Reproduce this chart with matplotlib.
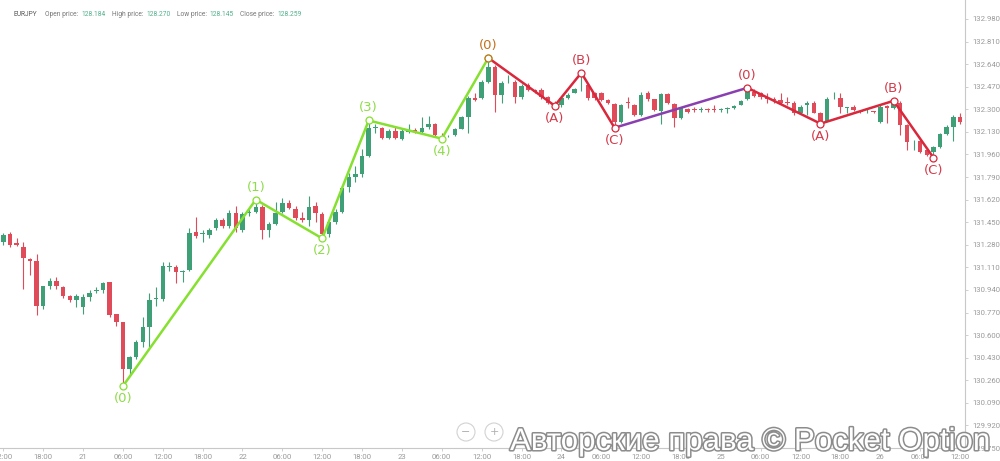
import numpy as np
import matplotlib
matplotlib.use("Agg")
import matplotlib.pyplot as plt
import matplotlib.patheffects as pe
from matplotlib.patches import Ellipse

# hourly EURJPY candles, hour 0 = 20th 12:00
opens = [131.298, 131.358, 131.290, 131.267, 131.170, 131.155, 130.817, 130.967, 131.005, 130.960,
         130.892, 130.862, 130.809, 130.884, 130.930, 130.937, 130.997, 130.757, 130.697, 130.343,
         130.434, 130.546, 130.659, 130.870, 130.870, 131.110, 131.110, 131.072, 131.087, 131.373,
         131.360, 131.350, 131.403, 131.470, 131.425, 131.523, 131.395, 131.520, 131.530, 131.568,
         131.395, 131.440, 131.530, 131.598, 131.553, 131.478, 131.463, 131.575, 131.515, 131.358,
         131.455, 131.530, 131.718, 131.793, 131.816, 131.951, 132.160, 132.161, 132.086, 132.139,
         132.079, 132.130, 132.146, 132.131, 132.169, 132.192, 132.094, 132.098, 132.109, 132.154,
         132.244, 132.387, 132.387, 132.507, 132.620, 132.409, 132.510, 132.507, 132.394, 132.484,
         132.447, 132.447, 132.394, 132.349, 132.334, 132.387, 132.424, 132.465, 132.484, 132.424,
         132.424, 132.372, 132.342, 132.207, 132.350, 132.334, 132.259, 132.424, 132.379, 132.289,
         132.417, 132.342, 132.237, 132.304, 132.300, 132.295, 132.297, 132.300, 132.295, 132.305,
         132.312, 132.334, 132.379, 132.432, 132.424, 132.380, 132.375, 132.372, 132.350, 132.349,
         132.274, 132.334, 132.349, 132.274, 132.214, 132.390, 132.387, 132.312, 132.319, 132.285,
         132.285, 132.282, 132.207, 132.327, 132.312, 132.349, 132.184, 132.060, 132.064, 131.996,
         131.981, 132.019, 132.116, 132.169, 132.244]
closes = [131.350, 131.282, 131.275, 131.177, 131.155, 130.817, 130.967, 131.005, 130.967, 130.892,
          130.862, 130.892, 130.884, 130.915, 130.937, 130.990, 130.749, 130.697, 130.343, 130.434,
          130.546, 130.659, 130.862, 130.877, 131.117, 131.117, 131.072, 131.080, 131.365, 131.343,
          131.365, 131.395, 131.463, 131.425, 131.523, 131.403, 131.515, 131.523, 131.568, 131.395,
          131.440, 131.523, 131.598, 131.560, 131.478, 131.463, 131.568, 131.523, 131.358, 131.448,
          131.530, 131.711, 131.793, 131.816, 131.951, 132.161, 132.165, 132.086, 132.139, 132.086,
          132.139, 132.135, 132.131, 132.161, 132.192, 132.109, 132.090, 132.101, 132.154, 132.244,
          132.387, 132.372, 132.507, 132.620, 132.409, 132.499, 132.515, 132.394, 132.477, 132.447,
          132.432, 132.394, 132.349, 132.334, 132.387, 132.409, 132.454, 132.469, 132.387, 132.387,
          132.372, 132.349, 132.207, 132.334, 132.349, 132.259, 132.409, 132.379, 132.297, 132.417,
          132.349, 132.237, 132.312, 132.282, 132.297, 132.298, 132.295, 132.295, 132.298, 132.312,
          132.327, 132.364, 132.432, 132.402, 132.394, 132.379, 132.368, 132.349, 132.349, 132.274,
          132.319, 132.349, 132.274, 132.214, 132.379, 132.394, 132.319, 132.319, 132.297, 132.282,
          132.287, 132.280, 132.319, 132.312, 132.349, 132.184, 132.056, 132.064, 131.981, 131.959,
          132.019, 132.116, 132.169, 132.244, 132.207]
highs = [131.37, 131.38, 131.33, 131.30, 131.18, 131.21, 130.97, 131.03, 131.04, 130.97,
         130.90, 130.91, 130.91, 130.94, 130.96, 131.00, 131.00, 130.76, 130.70, 130.44,
         130.56, 130.74, 130.92, 130.96, 131.15, 131.15, 131.13, 131.09, 131.41, 131.49,
         131.39, 131.41, 131.48, 131.48, 131.54, 131.57, 131.53, 131.55, 131.62, 131.58,
         131.45, 131.60, 131.63, 131.62, 131.57, 131.53, 131.65, 131.60, 131.53, 131.46,
         131.55, 131.73, 131.82, 131.87, 132.00, 132.214, 132.19, 132.17, 132.15, 132.17,
         132.15, 132.19, 132.16, 132.24, 132.25, 132.20, 132.12, 132.11, 132.16, 132.25,
         132.40, 132.42, 132.52, 132.687, 132.63, 132.51, 132.56, 132.52, 132.49, 132.50,
         132.45, 132.46, 132.40, 132.36, 132.40, 132.42, 132.46, 132.575, 132.50, 132.43,
         132.43, 132.38, 132.35, 132.34, 132.39, 132.34, 132.43, 132.44, 132.38, 132.42,
         132.42, 132.35, 132.32, 132.31, 132.32, 132.32, 132.31, 132.33, 132.31, 132.32,
         132.33, 132.37, 132.462, 132.45, 132.43, 132.42, 132.39, 132.42, 132.39, 132.36,
         132.33, 132.36, 132.36, 132.28, 132.39, 132.43, 132.42, 132.32, 132.33, 132.29,
         132.30, 132.29, 132.33, 132.33, 132.364, 132.36, 132.19, 132.07, 132.07, 132.00,
         132.02, 132.12, 132.18, 132.26, 132.27]
lows = [131.28, 131.26, 131.27, 130.95, 131.05, 130.75, 130.80, 130.95, 130.95, 130.88,
        130.85, 130.81, 130.76, 130.86, 130.92, 130.92, 130.74, 130.67, 130.216, 130.29,
        130.42, 130.51, 130.51, 130.82, 130.86, 131.08, 130.99, 131.00, 131.08, 131.33,
        131.30, 131.33, 131.39, 131.41, 131.41, 131.38, 131.38, 131.50, 131.52, 131.32,
        131.34, 131.43, 131.52, 131.55, 131.47, 131.45, 131.42, 131.45, 131.328, 131.34,
        131.44, 131.52, 131.68, 131.75, 131.79, 131.94, 132.12, 132.08, 132.08, 132.08,
        132.07, 132.12, 132.12, 132.12, 132.15, 132.10, 132.079, 132.09, 132.10, 132.15,
        132.12, 132.36, 132.38, 132.50, 132.282, 132.35, 132.50, 132.35, 132.38, 132.44,
        132.42, 132.38, 132.34, 132.327, 132.32, 132.38, 132.42, 132.44, 132.37, 132.37,
        132.36, 132.34, 132.161, 132.20, 132.31, 132.25, 132.25, 132.36, 132.29, 132.19,
        132.34, 132.17, 132.23, 132.27, 132.28, 132.28, 132.28, 132.28, 132.28, 132.27,
        132.30, 132.33, 132.37, 132.39, 132.38, 132.35, 132.35, 132.34, 132.33, 132.26,
        132.27, 132.26, 132.27, 132.192, 132.21, 132.38, 132.27, 132.27, 132.29, 132.27,
        132.27, 132.27, 132.20, 132.20, 132.30, 132.109, 131.996, 131.996, 131.97, 131.95,
        131.936, 132.01, 132.11, 132.06, 132.19]

# Elliott wave pivots (candle index, price, label)
impulse_idx = [18, 38, 48, 55, 66, 73]
impulse_px = [130.216, 131.620, 131.328, 132.216, 132.079, 132.687]
impulse_lbl = ["(0)", "(1)", "(2)", "(3)", "(4)", "(0)"]
corr1_idx = [73, 83, 87, 92]
corr1_px = [132.687, 132.327, 132.575, 132.161]
corr1_lbl = ["", "(A)", "(B)", "(C)"]
link_idx = [92, 112]
link_px = [132.161, 132.462]
corr2_idx = [112, 123, 134, 140]
corr2_px = [132.462, 132.192, 132.364, 131.936]
corr2_lbl = ["(0)", "(A)", "(B)", "(C)"]

xtick_pos = list(range(0, 145, 6))
xtick_lbl = ["12:00", "18:00", "21", "06:00", "12:00", "18:00", "22", "06:00", "12:00", "18:00",
             "23", "06:00", "12:00", "18:00", "24", "06:00", "12:00", "18:00", "25", "06:00",
             "12:00", "18:00", "26", "06:00", "12:00"]
ytick_vals = [129.75 + 0.17 * k for k in range(20)]

UP = "#3f9f77"
DOWN = "#e04b5a"
LIME = "#86e02f"
RED = "#d9273c"
PURPLE = "#8a3fb0"
GREY = "#9a9a9a"

fig = plt.figure(figsize=(10, 4.61), dpi=100)
ax = fig.add_axes([0, 13 / 461, 965 / 1000, 448 / 461])

o = np.array(opens); c = np.array(closes)
h = np.array(highs); l = np.array(lows)
x = np.arange(len(o))
col = np.where(c >= o, UP, DOWN)
ax.vlines(x, l, h, colors=col, linewidth=0.8, zorder=2)
body = np.maximum(np.abs(c - o), 0.004)
ax.bar(x, body, bottom=np.minimum(o, c), width=0.68, color=col, linewidth=0, zorder=3)

def wave(idx, px, color, lw=1.8):
    ax.plot(idx, px, color=color, lw=lw, zorder=4, solid_capstyle="round")

wave(impulse_idx, impulse_px, LIME)
wave(corr1_idx, corr1_px, RED)
wave(link_idx, link_px, PURPLE)
wave(corr2_idx, corr2_px, RED)

def marks(idx, px, color):
    ax.plot(idx, px, "o", ms=5, mfc="white", mec=color, mew=0.9, zorder=5, ls="none")

marks(impulse_idx, impulse_px, LIME)
marks(corr1_idx[1:], corr1_px[1:], RED)
marks(corr2_idx, corr2_px, RED)

def labels(idx, px, lbls, color, first_up):
    for k, (i, p, s) in enumerate(zip(idx, px, lbls)):
        if not s:
            continue
        up = (k % 2 == 0) == first_up
        ax.annotate(s, (i, p), xytext=(0, 9 if up else -9), textcoords="offset points",
                    ha="center", va="center", fontsize=9.5, color=color, zorder=6)

labels(impulse_idx[:-1], impulse_px[:-1], impulse_lbl[:-1], "#8fdc4a", False)
ax.annotate("(0)", (impulse_idx[-1], impulse_px[-1]), xytext=(0, 9), textcoords="offset points",
            ha="center", va="center", fontsize=9.5, color="#c2701c", zorder=6)
labels(corr1_idx, corr1_px, corr1_lbl, "#d43a4a", True)
labels(corr2_idx, corr2_px, corr2_lbl, "#d43a4a", True)
ax.plot(corr1_idx[0], corr1_px[0], "o", ms=5, mfc="white", mec="#c2701c", mew=0.9, zorder=6)

ax.set_xlim(-0.5, 144.75)
ax.set_ylim(129.765, 133.123)
for s in ["top", "left"]:
    ax.spines[s].set_visible(False)
for s in ["right", "bottom"]:
    ax.spines[s].set_color("#c8c8c8")
    ax.spines[s].set_linewidth(0.8)
ax.yaxis.tick_right()
ax.set_yticks(ytick_vals)
ax.set_yticklabels([f"{v:.3f}" for v in ytick_vals], family="Roboto")
ax.set_xticks(xtick_pos)
ax.set_xticklabels(xtick_lbl, family="Roboto")
ax.tick_params(axis="both", colors="#c8c8c8", labelcolor=GREY, labelsize=5.6, length=2.5, width=0.6)
ax.tick_params(axis="x", pad=1.5)
ax.tick_params(axis="y", pad=2.5)

# header line
hy = 1 - 14 / 461
parts = [(14, "EURJPY", "#555555"), (45, "Open price:", "#777777"), (81, "128.184", "#4fb08a"),
         (112, "High price:", "#777777"), (146, "128.270", "#4fb08a"),
         (177, "Low price:", "#777777"), (209, "128.145", "#4fb08a"),
         (240, "Close price:", "#777777"), (277, "128.259", "#4fb08a")]
for px_, s, cc in parts:
    fig.text(px_ / 1000, hy, s, fontsize=4.8, color=cc, va="center", ha="left", family="Roboto")

# zoom buttons
for cx, sym in [(466, "\u2212"), (494, "+")]:
    fig.add_artist(Ellipse((cx / 1000, 1 - 432 / 461), 18 / 1000, 18 / 461, transform=fig.transFigure,
                           fc="white", ec="#d2d2d2", lw=0.8, zorder=10))
    fig.text(cx / 1000, 1 - 432 / 461, sym, fontsize=8, color="#b0b0b0", ha="center", va="center", zorder=11)

# watermark
fig.text(0.51, 1 - 442 / 461, "Авторские права © Pocket Option", fontsize=22.5, family="Liberation Sans",
         color="white", ha="left", va="center", zorder=12,
         path_effects=[pe.withStroke(linewidth=2.2, foreground="#8c8c8c")])

fig.savefig("out.png", dpi=100, facecolor="white")
